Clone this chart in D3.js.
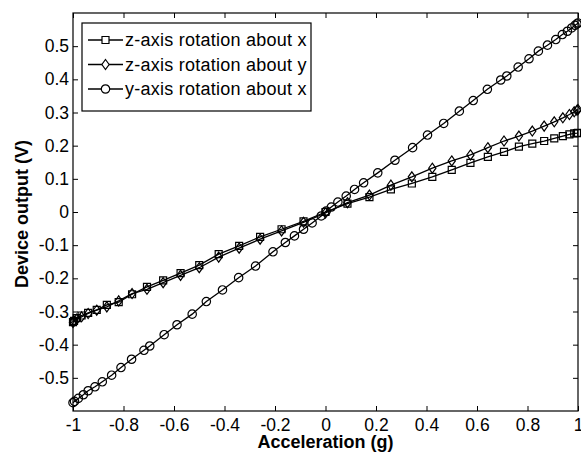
<!DOCTYPE html>
<html>
<head>
<meta charset="utf-8">
<script src="https://cdn.jsdelivr.net/npm/d3@7"></script>
<style>
  body { margin: 0; background: #fff; }
  svg { display: block; font-family: Arial, "Liberation Sans", sans-serif; }
</style>
</head>
<body>
<svg id="chart" width="581" height="453"></svg>
<script>
// acceleration values (g) for the two z-axis runs
const accelZ = [-1, -0.996, -0.985, -0.966, -0.940, -0.906, -0.866, -0.819, -0.766, -0.707,
  -0.643, -0.574, -0.5, -0.423, -0.342, -0.259, -0.174, -0.087, 0,
  0.087, 0.174, 0.259, 0.342, 0.423, 0.5, 0.574, 0.643, 0.707, 0.766,
  0.819, 0.866, 0.906, 0.940, 0.966, 0.985, 0.996, 1];

// z-axis rotation about x (squares)
const zAboutX = [-0.332, -0.328, -0.320, -0.312, -0.304, -0.295, -0.280, -0.272, -0.248, -0.226,
  -0.206, -0.184, -0.160, -0.127, -0.102, -0.075, -0.052, -0.028, 0.000,
  0.025, 0.045, 0.068, 0.086, 0.106, 0.127, 0.148, 0.166, 0.181, 0.197,
  0.206, 0.214, 0.222, 0.229, 0.234, 0.237, 0.238, 0.239];

// z-axis rotation about y (diamonds)
const zAboutY = [-0.333, -0.328, -0.323, -0.316, -0.306, -0.296, -0.286, -0.268, -0.246, -0.233,
  -0.213, -0.191, -0.168, -0.136, -0.109, -0.082, -0.057, -0.031, -0.003,
  0.028, 0.051, 0.081, 0.106, 0.132, 0.154, 0.172, 0.194, 0.214, 0.229,
  0.244, 0.259, 0.272, 0.284, 0.294, 0.302, 0.307, 0.309];

// y-axis rotation about x (circles)
const accelY = [-1, -0.994, -0.979, -0.959, -0.940, -0.913, -0.884, -0.847, -0.810, -0.768,
  -0.719, -0.696, -0.639, -0.588, -0.528, -0.472, -0.408, -0.344, -0.277, -0.208,
  -0.159, -0.123, -0.087, -0.053, -0.017, 0.003, 0.023, 0.049, 0.082, 0.115,
  0.151, 0.207, 0.275, 0.345, 0.404, 0.468, 0.530, 0.585, 0.641, 0.694,
  0.718, 0.763, 0.806, 0.843, 0.879, 0.912, 0.938, 0.958, 0.975, 0.988, 0.996, 1];
const yAboutX = [-0.575, -0.571, -0.562, -0.551, -0.539, -0.527, -0.512, -0.492, -0.469, -0.444,
  -0.417, -0.404, -0.370, -0.340, -0.308, -0.270, -0.235, -0.198, -0.163, -0.120,
  -0.092, -0.072, -0.052, -0.033, -0.012, 0.003, 0.015, 0.030, 0.048, 0.068,
  0.088, 0.118, 0.156, 0.194, 0.232, 0.267, 0.304, 0.336, 0.370, 0.398,
  0.410, 0.437, 0.462, 0.485, 0.503, 0.520, 0.535, 0.545, 0.555, 0.563, 0.567, 0.570];

const seriesNames = ["z-axis rotation about x", "z-axis rotation about y", "y-axis rotation about x"];
const seriesMarkers = ["square", "diamond", "circle"];

const xTicks = [-1, -0.8, -0.6, -0.4, -0.2, 0, 0.2, 0.4, 0.6, 0.8, 1];
const yTicks = [-0.5, -0.4, -0.3, -0.2, -0.1, 0, 0.1, 0.2, 0.3, 0.4, 0.5];

const series = [
  { name: seriesNames[0], marker: seriesMarkers[0], pts: accelZ.map((x, i) => [x, zAboutX[i]]) },
  { name: seriesNames[1], marker: seriesMarkers[1], pts: accelZ.map((x, i) => [x, zAboutY[i]]) },
  { name: seriesNames[2], marker: seriesMarkers[2], pts: accelY.map((x, i) => [x, yAboutX[i]]) }
];

const svg = d3.select("#chart");
const plotLeft = 73, plotRight = 578, plotTop = 13, plotBottom = 411;

const x = d3.scaleLinear().domain([-1, 1]).range([plotLeft, plotRight]);
const y = d3.scaleLinear().domain([-0.6, 0.6]).range([plotBottom, plotTop]);

function markerPath(kind) {
  if (kind == "square") return "M-3.5,-3.5H3.5V3.5H-3.5Z";
  if (kind == "diamond") return "M0,-5L3.6,0L0,5L-3.6,0Z";
  return "M4.2,0A4.2,4.2 0 1,1 -4.2,0A4.2,4.2 0 1,1 4.2,0Z";
}

// axes, MATLAB style: ticks pointing in, on all four sides
const fmt = d => String(+d.toFixed(1));
const labelFont = "Arial, 'Liberation Sans', sans-serif";
svg.append("g").attr("transform", `translate(0,${plotBottom})`)
  .call(d3.axisBottom(x).tickValues(xTicks).tickSizeInner(-5).tickSizeOuter(0).tickPadding(8).tickFormat(fmt))
  .call(g => g.select(".domain").remove())
  .call(g => g.selectAll("text").attr("font-size", 17.5).attr("font-family", labelFont).attr("fill", "#000"));
svg.append("g").attr("transform", `translate(0,${plotTop})`)
  .call(d3.axisTop(x).tickValues(xTicks).tickSizeInner(-5).tickSizeOuter(0).tickFormat(""))
  .call(g => g.select(".domain").remove());
svg.append("g").attr("transform", `translate(${plotLeft},0)`)
  .call(d3.axisLeft(y).tickValues(yTicks).tickSizeInner(-5).tickSizeOuter(0).tickPadding(4).tickFormat(fmt))
  .call(g => g.select(".domain").remove())
  .call(g => g.selectAll("text").attr("font-size", 17.5).attr("font-family", labelFont).attr("fill", "#000"));
svg.append("g").attr("transform", `translate(${plotRight},0)`)
  .call(d3.axisRight(y).tickValues(yTicks).tickSizeInner(-5).tickSizeOuter(0).tickFormat(""))
  .call(g => g.select(".domain").remove());

svg.append("rect")
  .attr("x", plotLeft).attr("y", plotTop)
  .attr("width", plotRight - plotLeft).attr("height", plotBottom - plotTop)
  .attr("fill", "none").attr("stroke", "#000").attr("stroke-width", 1.2);

// lines and markers
const line = d3.line().x(d => x(d[0])).y(d => y(d[1]));
series.forEach(s => {
  svg.append("path").datum(s.pts)
    .attr("d", line).attr("fill", "none").attr("stroke", "#000").attr("stroke-width", 1.3);
  svg.append("g").selectAll("path")
    .data(s.pts).join("path")
    .attr("transform", d => `translate(${x(d[0])},${y(d[1])})`)
    .attr("d", markerPath(s.marker))
    .attr("fill", "none").attr("stroke", "#000").attr("stroke-width", 1.2);
});

// axis labels
svg.append("text")
  .attr("x", (plotLeft + plotRight) / 2).attr("y", 448)
  .attr("text-anchor", "middle").attr("font-size", 18).attr("font-weight", "bold")
  .text("Acceleration (g)");
svg.append("text")
  .attr("transform", `translate(28,214) rotate(-90)`)
  .attr("text-anchor", "middle").attr("font-size", 18).attr("font-weight", "bold")
  .text("Device output (V)");

// legend
const lg = svg.append("g");
lg.append("rect")
  .attr("x", 82).attr("y", 23).attr("width", 229).attr("height", 88)
  .attr("fill", "#fff").attr("stroke", "#000").attr("stroke-width", 1.2);
series.forEach((s, i) => {
  const ly = 40 + i * 24.5;
  lg.append("line").attr("x1", 88).attr("x2", 123).attr("y1", ly).attr("y2", ly)
    .attr("stroke", "#000").attr("stroke-width", 1.3);
  lg.append("path").attr("transform", `translate(105.5,${ly})`)
    .attr("d", markerPath(s.marker)).attr("fill", "#fff").attr("stroke", "#000").attr("stroke-width", 1.2);
  lg.append("text").attr("x", 125).attr("y", ly).attr("dy", "0.35em")
    .attr("font-size", 18).attr("letter-spacing", 0.25).text(s.name);
});
</script>
</body>
</html>
